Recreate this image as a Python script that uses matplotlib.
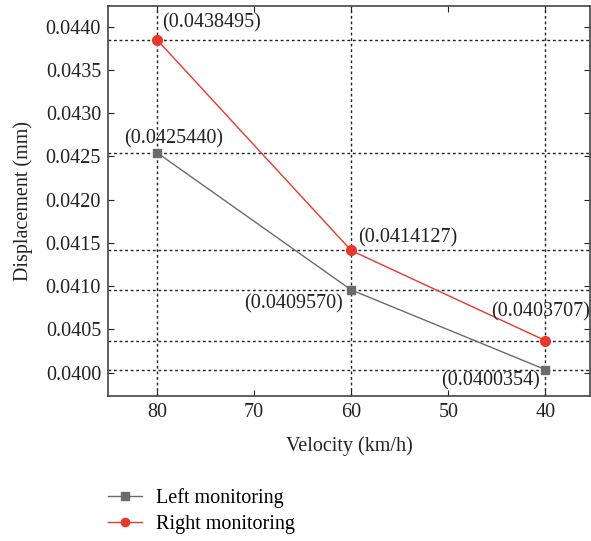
import matplotlib
matplotlib.use("Agg")
import matplotlib.pyplot as plt

velocity = [80, 60, 40]
left_vals = [0.0425440, 0.0409570, 0.0400354]
right_vals = [0.0438495, 0.0414127, 0.0403707]
left_labels = ["(0.0425440)", "(0.0409570)", "(0.0400354)"]
right_labels = ["(0.0438495)", "(0.0414127)", "(0.0403707)"]
xticks = [80, 70, 60, 50, 40]
yticks = [0.0400, 0.0405, 0.0410, 0.0415, 0.0420, 0.0425, 0.0430, 0.0435, 0.0440]

plt.rcParams['font.family'] = ['Liberation Serif', 'DejaVu Serif']
fig = plt.figure(figsize=(5.91, 5.41), dpi=100)
ax = fig.add_axes([108/591, 1-396/541, (590-108)/591, (396-6)/541])

gray = '#6b6b6b'
red = '#e8382c'
tc = '#222222'

for v in left_vals + right_vals:
    ax.axhline(v, color='#222222', linestyle=(0, (2, 2)), linewidth=1.0, zorder=1)
for x in velocity:
    ax.axvline(x, color='#222222', linestyle=(0, (2, 2)), linewidth=1.0, zorder=1)

ax.plot(velocity, left_vals, color=gray, marker='s', markersize=6, linewidth=1.0,
        label='Left monitoring', zorder=3)
ax.plot(velocity, right_vals, color=red, marker='o', markersize=7, linewidth=1.0,
        label='Right monitoring', zorder=3)

fs = 14.5
ax.annotate(left_labels[0], (velocity[0], left_vals[0]), xytext=(12, 3), textcoords='offset points',
            ha='center', va='bottom', fontsize=fs, color=tc)
ax.annotate(left_labels[1], (velocity[1], left_vals[1]), xytext=(-6, -3), textcoords='offset points',
            ha='right', va='top', fontsize=fs, color=tc)
ax.annotate(left_labels[2], (velocity[2], left_vals[2]), xytext=(-4, -1), textcoords='offset points',
            ha='right', va='top', fontsize=fs, color=tc)
ax.annotate(right_labels[0], (velocity[0], right_vals[0]), xytext=(4, 5), textcoords='offset points',
            ha='left', va='bottom', fontsize=fs, color=tc)
ax.annotate(right_labels[1], (velocity[1], right_vals[1]), xytext=(5, 2), textcoords='offset points',
            ha='left', va='bottom', fontsize=fs, color=tc)
ax.annotate(right_labels[2], (velocity[2], right_vals[2]), xytext=(32, 14), textcoords='offset points',
            ha='right', va='bottom', fontsize=fs, color=tc)

ax.set_xlim(85.05, 35.4)
ax.set_ylim(0.03973, 0.04424)
ax.set_xticks(xticks)
ax.set_yticks(yticks)
ax.set_yticklabels([f"{t:.4f}" for t in yticks])
ax.tick_params(axis='both', direction='in', length=4, labelsize=fs, colors=tc,
               top=True, right=True, pad=5)
for s in ax.spines.values():
    s.set_color('#444444')
    s.set_linewidth(1.2)

ax.set_xlabel('Velocity (km/h)', fontsize=fs, labelpad=10, color=tc)
ax.set_ylabel('Displacement (mm)', fontsize=fs, labelpad=9, color=tc)

handles, labels = ax.get_legend_handles_labels()
fig.legend(handles, labels, loc='upper left', bbox_to_anchor=(90/591, 1-470/541),
           frameon=False, fontsize=fs, handlelength=1.7, handletextpad=0.7,
           labelspacing=0.35, markerscale=0.85)

fig.savefig('out.png', dpi=100)
